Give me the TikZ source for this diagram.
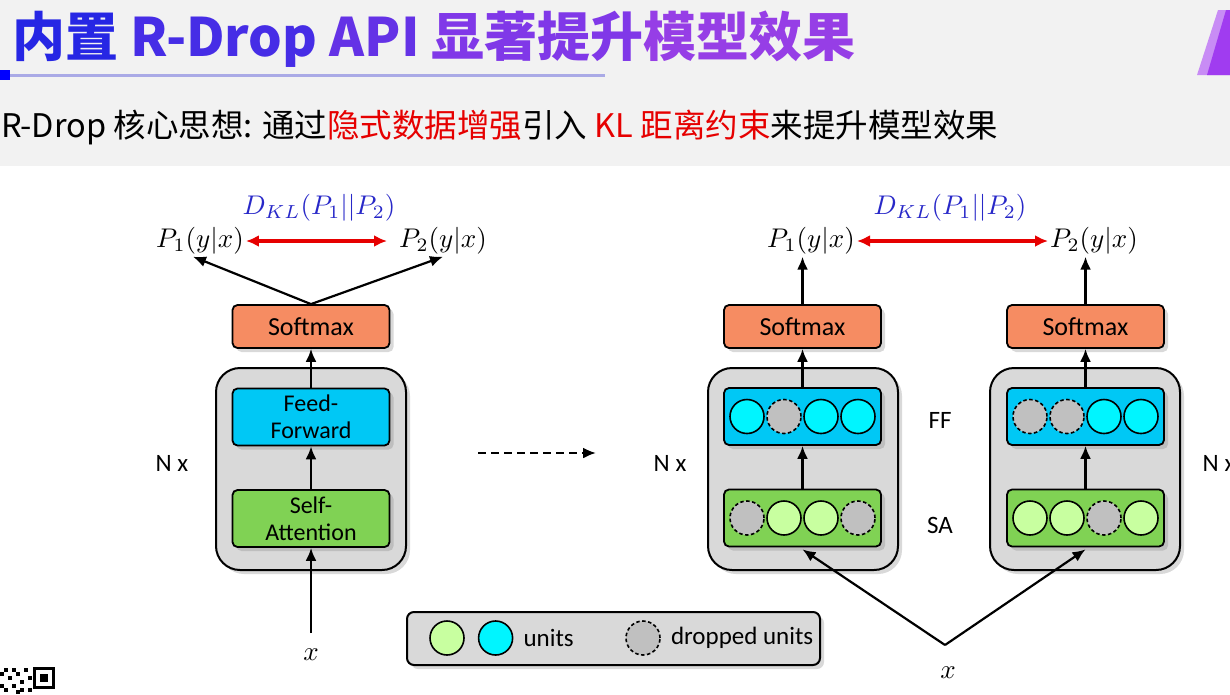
\documentclass[tikz,border=0pt]{standalone}
\usepackage{fontspec}
\newfontfamily\cjk{Noto Sans CJK SC}
\newfontfamily\uifont{Carlito}
\usetikzlibrary{arrows.meta,positioning,shadows}
\newcommand\mlbl[1]{\scalebox{2.7}{$#1$}}

\definecolor{hdrgray}{RGB}{242,242,242}
\definecolor{smfill}{RGB}{246,140,98}
\definecolor{fffill}{RGB}{0,200,245}
\definecolor{safill}{RGB}{128,210,84}
\definecolor{blkgray}{RGB}{217,217,217}
\definecolor{unitcyan}{RGB}{0,245,255}
\definecolor{unitgreen}{RGB}{200,255,160}
\definecolor{dropgray}{RGB}{192,192,192}
\definecolor{klblue}{RGB}{40,40,200}
\definecolor{subred}{RGB}{230,0,0}
\definecolor{ttlA}{RGB}{38,38,228}
\definecolor{ttlB}{RGB}{70,45,230}
\definecolor{ttlC}{RGB}{100,50,230}
\definecolor{ttlD}{RGB}{128,56,232}
\definecolor{ttlE}{RGB}{150,62,230}

\begin{document}
\begin{tikzpicture}[x=1pt,y=-1pt,>=Latex]
  \tikzstyle{shad}=[drop shadow={shadow xshift=4pt,shadow yshift=-4pt,opacity=.3}]
  \tikzstyle{block}=[draw,line width=2pt,rounded corners=24pt,fill=blkgray,minimum width=190pt,minimum height=202pt,shad]
  \tikzstyle{layer}=[draw,line width=1.8pt,rounded corners=5pt,minimum width=157pt,inner sep=1pt,align=center,font=\uifont\fontsize{24}{27}\selectfont,shad]
  \tikzstyle{smbox}=[layer,fill=smfill,minimum height=43pt,font=\uifont\fontsize{26}{28}\selectfont]
  \tikzstyle{ffbox}=[layer,fill=fffill,minimum height=57pt]
  \tikzstyle{sabox}=[layer,fill=safill,minimum height=57pt]
  \tikzstyle{unitc}=[circle,draw,line width=1.6pt,fill=unitcyan,minimum size=34pt,inner sep=0]
  \tikzstyle{unitg}=[unitc,fill=unitgreen]
  \tikzstyle{unitd}=[unitc,fill=dropgray,dash pattern=on 3.5pt off 2.5pt]
  \tikzstyle{mlabel}=[inner sep=2pt]
  \tikzstyle{txt}=[inner sep=2pt,font=\uifont\fontsize{25}{28}\selectfont]
  \tikzstyle{arr}=[line width=2.2pt,-{Latex[length=13pt,width=11pt]}]
  \tikzstyle{klarr}=[line width=3.5pt,subred,{Latex[length=13pt,width=12pt]}-{Latex[length=13pt,width=12pt]}]

  \useasboundingbox (0,0) rectangle (1230,694);
  \clip (0,0) rectangle (1230,694);

  % slide header
  \fill[hdrgray] (0,0) rectangle (1230,166);
  \fill[blue] (0,70) rectangle (10,80);
  \draw[line width=3pt,color={rgb,255:red,170;green,170;blue,230}] (10,75) -- (605,75);
  \fill[color={rgb,255:red,200;green,140;blue,245}] (1197,75) -- (1218,10) -- (1230,10) -- (1230,75) -- cycle;
  \fill[color={rgb,255:red,160;green,60;blue,240}] (1207,75) -- (1226,10) -- (1230,10) -- (1230,75) -- cycle;
  \node[anchor=base west,inner sep=0,font=\cjk\bfseries\fontsize{53}{53}\selectfont] (title) at (12,56)
    {\textcolor{ttlA}{内置} \textcolor{ttlB}{R-Drop} \textcolor{ttlC}{API} \textcolor{ttlD}{显著提升}\textcolor{ttlE}{模型效果}};
  \node[anchor=base west,inner sep=0,font=\cjk\fontsize{32.5}{33}\selectfont] (sub) at (1,137)
    {R-Drop 核心思想: 通过\textcolor{subred}{隐式数据增强}引入 \textcolor{subred}{KL 距离约束}来提升模型效果};

  % left: one transformer pass
  \node[block] (blkL) at (311,469) {};
  \node[smbox] (smL) at (311,326.5) {Softmax};
  \node[ffbox] (ffL) at (311,417) {Feed-\\Forward};
  \node[sabox] (saL) at (311,518.5) {Self-\\Attention};
  \node[txt] (nL) at (172,463) {N x};
  \node[mlabel] (xL) at (311,655) {\mlbl{x}};
  \node[mlabel] (pL1) at (200,241) {\mlbl{P_1(y|x)}};
  \node[mlabel] (pL2) at (443,241) {\mlbl{P_2(y|x)}};
  \node[mlabel,text=klblue] (dklL) at (319,208) {\mlbl{D_{KL}(P_1||P_2)}};
  \draw[arr,shorten <=14pt] (xL) -- (saL);
  \draw[arr] (saL) -- (ffL);
  \draw[arr] (ffL) -- (smL);
  \draw[arr] (smL.north) -- ([xshift=-7pt]pL1.south);
  \draw[arr] (smL.north) -- (pL2.south);
  \draw[klarr] (pL1) -- ([xshift=-10pt]pL2.west);

  \coordinate (dashS) at (478,453);
  \coordinate (dashE) at (596,453);
  \draw[arr,dash pattern=on 8pt off 5pt] (dashS) -- (dashE);

  % right: two passes with dropout
  \node[block] (blkA) at (803,469) {};
  \node[block] (blkB) at (1085,469) {};
  \foreach \b/\cx in {A/802.5,B/1085.5}{
    \node[smbox] (sm\b) at (\cx,326.5) {Softmax};
    \node[ffbox] (ff\b) at (\cx,416.5) {};
    \node[sabox] (sa\b) at (\cx,518) {};
  }
  \foreach \s [count=\i] in {unitc,unitd,unitc,unitc}
    \node[\s] (ffA\i) at ({802.5+37*(\i-2.5)},416.5) {};
  \foreach \s [count=\i] in {unitd,unitg,unitg,unitd}
    \node[\s] (saA\i) at ({802.5+37*(\i-2.5)},518) {};
  \foreach \s [count=\i] in {unitd,unitd,unitc,unitc}
    \node[\s] (ffB\i) at ({1085.5+37*(\i-2.5)},416.5) {};
  \foreach \s [count=\i] in {unitg,unitg,unitd,unitg}
    \node[\s] (saB\i) at ({1085.5+37*(\i-2.5)},518) {};

  \node[txt] (nA) at (670,463) {N x};
  \node[txt] (nB) at (1219,463) {N x};
  \node[txt] (ffT) at (940,420) {FF};
  \node[txt] (saT) at (940,525) {SA};
  \node[mlabel] (pA1) at (811,241) {\mlbl{P_1(y|x)}};
  \node[mlabel] (pA2) at (1094,241) {\mlbl{P_2(y|x)}};
  \node[mlabel,text=klblue] (dklR) at (950,208) {\mlbl{D_{KL}(P_1||P_2)}};
  \node[mlabel] (xR) at (948,673) {\mlbl{x}};
  \coordinate (xfork) at (945,645);

  \foreach \b in {A,B}{
    \draw[arr] (sa\b) -- (ff\b);
    \draw[arr] (ff\b) -- (sm\b);
    \draw[arr] (sm\b.north) -- (sm\b.north |- pA1.south);
    \draw[arr] (xfork) -- ([yshift=-2pt]sa\b.south);
  }
  \draw[klarr] (pA1) -- (pA2);

  % legend
  \node[draw,line width=2pt,rounded corners=7pt,fill=blkgray,minimum width=413pt,minimum height=53pt,shad] (leg) at (613.5,638.5) {};
  \node[unitg] (lgG) at (447,638) {};
  \node[unitc,right=13pt of lgG] (lgC) {};
  \node[txt,right=8pt of lgC] (lgU) {units};
  \node[unitd] (lgD) at (643,638) {};
  \node[txt,right=8pt of lgD] (lgDU) {dropped units};

  % code fragment in the corner
  \draw[line width=3pt] (34.5,668.5) rectangle (53.5,687.5);
  \fill (40,674) rectangle (48,682);
  \foreach \qx/\qy in {0/672,4/668,8/676,12/668,16/672,20/680,24/668,12/684,4/688,20/688,28/676,16/690,0/684,28/688}
    \fill (\qx,\qy) rectangle ++(4,4);
\end{tikzpicture}
\end{document}
